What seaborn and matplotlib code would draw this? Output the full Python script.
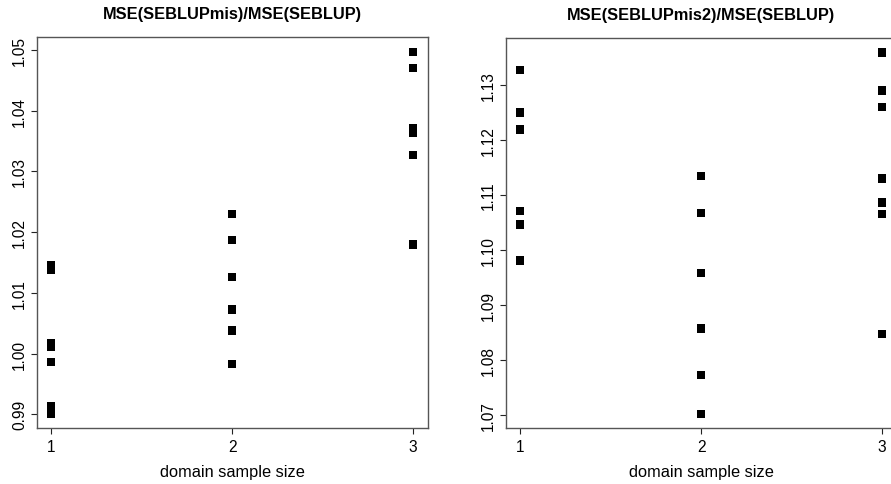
import pandas as pd
import matplotlib
matplotlib.use('Agg')
import matplotlib.pyplot as plt
import seaborn as sns

sns.set_style('white')
plt.rcParams['font.family'] = ['Liberation Sans', 'DejaVu Sans']
plt.rcParams['text.color'] = 'black'
plt.rcParams['xtick.color'] = 'black'
plt.rcParams['ytick.color'] = 'black'
plt.rcParams['axes.labelcolor'] = 'black'

# values
size_left = [1, 1, 1, 1, 1, 1, 1,
             2, 2, 2, 2, 2, 2,
             3, 3, 3, 3, 3, 3]
ratio_left = [1.0146, 1.0138, 1.0017, 1.0011, 0.9986, 0.9913, 0.9901,
              1.0230, 1.0187, 1.0126, 1.0073, 1.0038, 0.9983,
              1.0497, 1.0470, 1.0371, 1.0363, 1.0327, 1.0180]

size_right = [1, 1, 1, 1, 1, 1,
              2, 2, 2, 2, 2, 2,
              3, 3, 3, 3, 3, 3, 3]
ratio_right = [1.1327, 1.1250, 1.1219, 1.1071, 1.1046, 1.0981,
               1.1134, 1.1067, 1.0958, 1.0857, 1.0773, 1.0702,
               1.1359, 1.1290, 1.1260, 1.1130, 1.1086, 1.1065, 1.0847]

titles = ['MSE(SEBLUPmis)/MSE(SEBLUP)', 'MSE(SEBLUPmis2)/MSE(SEBLUP)']
yticks_left = [0.99, 1.00, 1.01, 1.02, 1.03, 1.04, 1.05]
yticks_right = [1.07, 1.08, 1.09, 1.10, 1.11, 1.12, 1.13]

W, H = 891, 485
fig = plt.figure(figsize=(W / 100, H / 100), dpi=100)

# axes boxes in pixels: left, top, right, bottom
boxes = [(36.7, 38.3, 427.7, 429.3), (505.7, 39.0, 896.7, 429.3)]
panels = [(size_left, ratio_left, yticks_left), (size_right, ratio_right, yticks_right)]

for (l, t, r, b), (xs, ys, yt), title in zip(boxes, panels, titles):
    ax = fig.add_axes([l / W, 1 - b / H, (r - l) / W, (b - t) / H])
    df = pd.DataFrame({'size': xs, 'ratio': ys})
    sns.scatterplot(data=df, x='size', y='ratio', marker='s', s=36,
                    color='black', edgecolor='none', linewidth=0, ax=ax)
    lo, hi = min(ys), max(ys)
    pad = (hi - lo) * 0.04
    ax.set_ylim(lo - pad, hi + pad)
    ax.set_xlim(0.92, 3.08)
    ax.set_xticks([1, 2, 3])
    ax.set_xticklabels(['1', '2', '3'])
    ax.set_yticks(yt)
    ax.set_yticklabels(['%.2f' % v for v in yt], rotation=90, va='center')
    ax.tick_params(axis='both', direction='out', length=4, width=0.8,
                   color='#222222', labelsize=11.2, pad=4, left=True, bottom=True)
    ax.tick_params(axis='y', pad=3)
    for sp in ax.spines.values():
        sp.set_color('#555555')
        sp.set_linewidth(1.0)
    ax.set_xlabel('domain sample size', fontsize=11.8, labelpad=7)
    ax.set_ylabel('')
    ax.set_title(title, fontsize=11.8, fontweight='bold', pad=14)

fig.savefig('out.png', dpi=100)
